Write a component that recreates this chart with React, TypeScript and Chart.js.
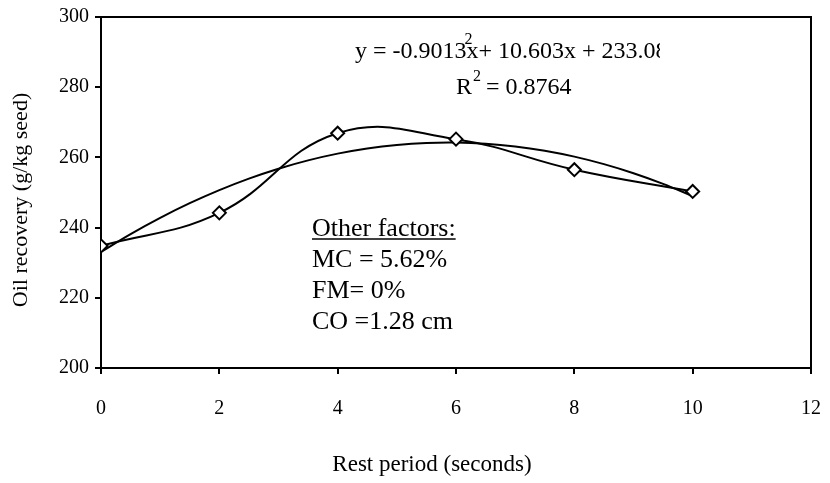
import React, { useEffect, useRef } from "react";
import { Chart, registerables } from "chart.js";

Chart.register(...registerables);

// ---- data ----
const restPeriod = [0, 2, 4, 6, 8, 10];
const oilRecovery = [234.8, 244.2, 266.9, 265.2, 256.5, 250.3];
// Polynomial trendline coefficients as printed on the chart: c0 + c1*x + c2*x^2
const trendCoefficients = [233.08, 10.603, -0.9013];
const trendX = [0, 0.5, 1, 1.5, 2, 2.5, 3, 3.5, 4, 4.5, 5, 5.5, 6, 6.5, 7, 7.5, 8, 8.5, 9, 9.5, 10];
const xTicks = [0, 2, 4, 6, 8, 10, 12];
const yTicks = [200, 220, 240, 260, 280, 300];
const equationLead = "y = -0.9013";
const equationTail = "x+ 10.603x + 233.08";
const r2Text = "= 0.8764";
const factorTitle = "Other factors:";
const factorLines = ["MC = 5.62%", "FM= 0%", "CO =1.28 cm"];
const xTitle = "Rest period (seconds)";
const yTitle = "Oil recovery (g/kg seed)";

const SERIF = "'Liberation Serif', 'Times New Roman', serif";

const trendY = trendX.map(
  (x) => trendCoefficients[0] + trendCoefficients[1] * x + trendCoefficients[2] * x * x
);

const annotationPlugin = {
  id: "annotations",
  afterDraw(chart: any) {
    const { ctx, chartArea } = chart;
    ctx.save();
    // frame
    ctx.strokeStyle = "#000";
    ctx.lineWidth = 2;
    ctx.beginPath();
    ctx.moveTo(chartArea.left, chartArea.top);
    ctx.lineTo(chartArea.right, chartArea.top);
    ctx.lineTo(chartArea.right, chartArea.bottom);
    ctx.stroke();

    ctx.fillStyle = "#000";
    ctx.textBaseline = "alphabetic";
    ctx.textAlign = "left";

    // trendline label (equation clipped by its text box)
    const EQ = 24;
    ctx.save();
    ctx.beginPath();
    ctx.rect(300, 20, 360, 50);
    ctx.clip();
    ctx.font = `${EQ}px ${SERIF}`;
    const eqX = 355;
    const eqY = 58;
    ctx.fillText(equationLead, eqX, eqY);
    const w1 = ctx.measureText(equationLead).width;
    ctx.fillText(equationTail, eqX + w1, eqY);
    ctx.font = `16px ${SERIF}`;
    ctx.fillText("2", eqX + w1 - 2, eqY - 14);
    ctx.restore();

    // R^2
    ctx.font = `${EQ}px ${SERIF}`;
    const rX = 456;
    const rY = 94;
    ctx.fillText("R", rX, rY);
    const wr = ctx.measureText("R").width;
    ctx.font = `16px ${SERIF}`;
    ctx.fillText("2", rX + wr + 1, rY - 13);
    const ws = ctx.measureText("2").width;
    ctx.font = `${EQ}px ${SERIF}`;
    ctx.fillText(" " + r2Text, rX + wr + ws, rY);

    // other factors
    ctx.font = `26px ${SERIF}`;
    const fx = 312;
    let fy = 236;
    ctx.fillText(factorTitle, fx, fy);
    const wt = ctx.measureText(factorTitle).width;
    ctx.lineWidth = 1.5;
    ctx.beginPath();
    ctx.moveTo(fx, fy + 3);
    ctx.lineTo(fx + wt, fy + 3);
    ctx.stroke();
    factorLines.forEach((line) => {
      fy += 31;
      ctx.fillText(line, fx, fy);
    });

    // axis titles
    ctx.font = `23px ${SERIF}`;
    ctx.textAlign = "center";
    ctx.textBaseline = "middle";
    ctx.fillText(xTitle, 432, 465);

    ctx.save();
    ctx.translate(21, 200);
    ctx.rotate(-Math.PI / 2);
    ctx.font = `22px ${SERIF}`;
    ctx.fillText(yTitle, 0, 0);
    ctx.restore();

    ctx.restore();
  },
};

export default function App() {
  const canvasRef = useRef<HTMLCanvasElement | null>(null);

  useEffect(() => {
    document.body.style.margin = "0";
    const canvas = canvasRef.current;
    if (!canvas) return;
    const chart = new Chart(canvas, {
      type: "scatter",
      data: {
        datasets: [
          {
            label: "Oil recovery",
            data: restPeriod.map((x, i) => ({ x, y: oilRecovery[i] })),
            showLine: true,
            tension: 0.42,
            borderColor: "#000",
            borderWidth: 2,
            pointStyle: "rectRot",
            pointRadius: 6.5,
            pointBackgroundColor: "#fff",
            pointBorderColor: "#000",
            pointBorderWidth: 2,
            order: 1,
          },
          {
            label: "Poly. trend",
            data: trendX.map((x, i) => ({ x, y: trendY[i] })),
            showLine: true,
            tension: 0.4,
            borderColor: "#000",
            borderWidth: 2,
            pointRadius: 0,
            order: 2,
          },
        ],
      },
      options: {
        animation: false,
        responsive: false,
        maintainAspectRatio: false,
        layout: { padding: { left: 0, right: 19, top: 17, bottom: 0 } },
        plugins: {
          legend: { display: false },
          tooltip: { enabled: false },
        },
        scales: {
          x: {
            type: "linear",
            min: 0,
            max: 12,
            afterBuildTicks: (scale: any) => {
              scale.ticks = xTicks.map((v) => ({ value: v }));
            },
            afterFit: (scale: any) => {
              scale.height = 115;
              scale.paddingLeft = 0;
              scale.paddingRight = 0;
            },
            ticks: {
              color: "#000",
              font: { family: SERIF, size: 20 },
              padding: 23,
              maxRotation: 0,
            },
            grid: {
              display: true,
              drawOnChartArea: false,
              drawTicks: true,
              tickLength: 6,
              color: "#000",
              lineWidth: 2,
            },
            border: { display: true, color: "#000", width: 2 },
            title: { display: false },
          },
          y: {
            type: "linear",
            min: 200,
            max: 300,
            afterBuildTicks: (scale: any) => {
              scale.ticks = yTicks.map((v) => ({ value: v }));
            },
            afterFit: (scale: any) => {
              scale.width = 101;
              scale.paddingTop = 0;
              scale.paddingBottom = 0;
            },
            ticks: {
              color: "#000",
              font: { family: SERIF, size: 20 },
              padding: 6,
            },
            grid: {
              display: true,
              drawOnChartArea: false,
              drawTicks: true,
              tickLength: 6,
              color: "#000",
              lineWidth: 2,
            },
            border: { display: true, color: "#000", width: 2 },
            title: { display: false },
          },
        },
      },
      plugins: [annotationPlugin],
    });
    return () => chart.destroy();
  }, []);

  return (
    <div style={{ width: 830, height: 483, background: "#fff" }}>
      <canvas ref={canvasRef} width={830} height={483} style={{ display: "block" }} />
    </div>
  );
}
